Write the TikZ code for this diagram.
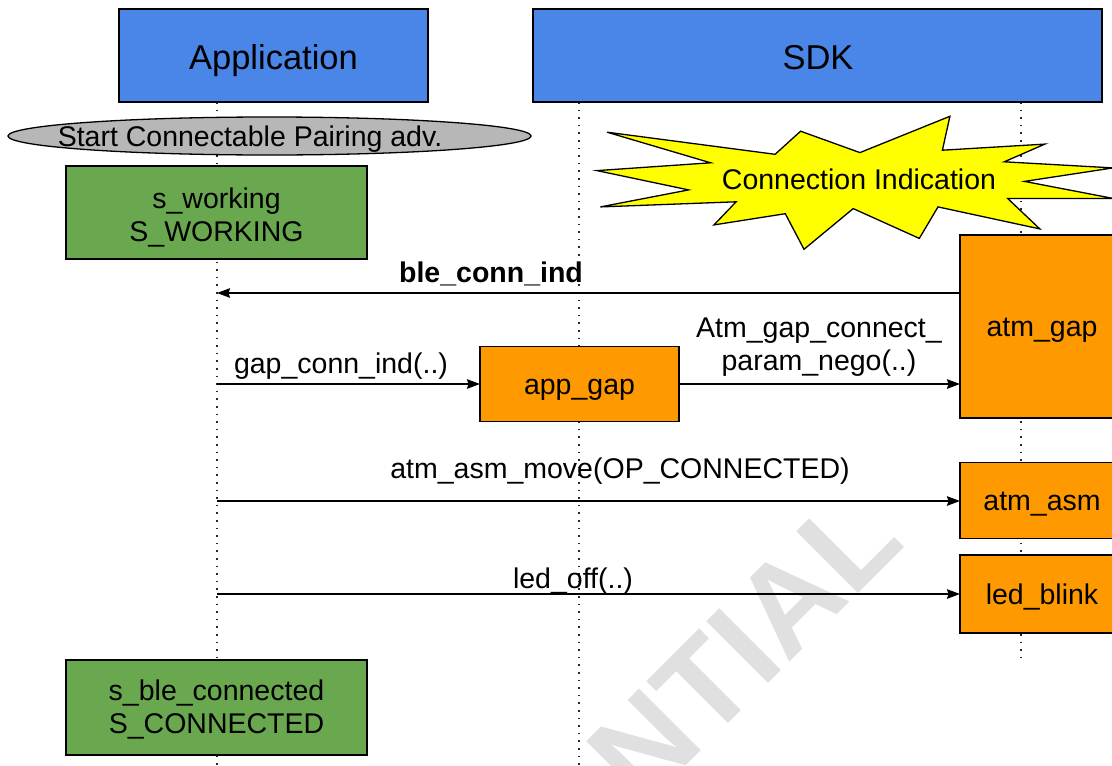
\documentclass[tikz,border=0pt]{standalone}
\usepackage{fontspec}
\setmainfont{Liberation Sans}
\usetikzlibrary{arrows.meta}
\definecolor{hdrblue}{HTML}{4A86E8}
\definecolor{stgreen}{HTML}{6AA84F}
\definecolor{fnorange}{HTML}{FF9900}
\definecolor{elgray}{HTML}{B7B7B7}
\definecolor{burstyellow}{HTML}{FFFF00}
\definecolor{wmgray}{HTML}{E0E0E0}
\begin{document}
\begin{tikzpicture}[x=1pt,y=-1pt,
  every node/.style={inner sep=0pt, outer sep=0pt},
  txt/.style={font=\fontsize{28.5}{33}\selectfont, align=center},
  header/.style={draw=black, line width=1.3pt, fill=hdrblue},
  hdrtxt/.style={font=\fontsize{34.5}{40}\selectfont, anchor=base},
  statebox/.style={draw=black, line width=1.3pt, fill=stgreen, txt},
  fnbox/.style={draw=black, line width=1.3pt, fill=fnorange, font=\fontsize{28.5}{33}\selectfont, text height=20pt, text depth=-4pt},
  lifeline/.style={line width=1.6pt, dash pattern=on 1.6pt off 6pt, black!85},
  msg/.style={line width=1.4pt, -{Stealth[length=13pt,width=9.5pt,inset=1.5pt]}},
  lbl/.style={txt, anchor=base},
  burst/.style={draw=black, line width=1.3pt, fill=burstyellow, line join=miter},
]
\path[use as bounding box, clip] (0,0) rectangle (1112,766);
\fill[white] (0,0) rectangle (1112,766);

% watermark
\node[rotate=45, anchor=base east, text=wmgray, font={\fontsize{127}{127}\selectfont\bfseries}] (wm) at (907,545) {NTIAL};

% lifelines
\coordinate (appL0) at (217,102); \coordinate (appL1) at (217,766);
\coordinate (midL0) at (579,102); \coordinate (midL1) at (579,766);
\coordinate (rgtL0) at (1021,102); \coordinate (rgtL1) at (1021,662);
\draw[lifeline] (appL0) -- (appL1);
\draw[lifeline] (midL0) -- (midL1);
\draw[lifeline] (rgtL0) -- (rgtL1);

% headers
\node[header, minimum width=309, minimum height=93] (app) at (273.5,55.5) {};
\node[hdrtxt] (apptxt) at (273.5,69.5) {Application};
\node[header, minimum width=569, minimum height=93] (sdk) at (817.5,55.5) {};
\node[hdrtxt] (sdktxt) at (818,69.5) {SDK};

% advertising ellipse
\coordinate (advc) at (269.5,136);
\draw[line width=1.3pt, fill=elgray] (advc) ellipse [x radius=261.5, y radius=19];
\node[txt, anchor=base] (adv) at (250,146) {Start Connectable Pairing adv.};

% state boxes
\node[statebox, minimum width=301, minimum height=93] (sw) at (216.5,212.5) {};
\node[txt] (swtxt) at (216.5,218) {s\_working\\S\_WORKING};
\node[statebox, minimum width=301, minimum height=95] (sc) at (216.5,707.5) {};
\node[txt] (sctxt) at (216.5,709) {s\_ble\_connected\\S\_CONNECTED};

% function boxes
\node[fnbox, minimum width=199, minimum height=75] (appgap) at (579.5,384) {app\_gap};
\node[fnbox, minimum width=164, minimum height=183] (atmgap) at (1042,326.5) {atm\_gap};
\node[fnbox, minimum width=164, minimum height=76] (atmasm) at (1042,500.5) {atm\_asm};
\node[fnbox, minimum width=164, minimum height=78] (ledblink) at (1042,594) {led\_blink};

% starburst
\draw[burst] (607.1,132.2) -- (775.1,154.3) -- (800.6,131.2) -- (859.9,152.6)
  -- (949.9,116.3) -- (942.4,150.2) -- (1044.9,144.1) -- (1004.2,161.8)
  -- (1113,167.9) -- (1024.5,181.4) -- (1113,198.4) -- (1007.6,198.4)
  -- (1039.8,228.9) -- (938,206.9) -- (919.3,238.4) -- (853.2,208.6)
  -- (804,249.3) -- (785.3,213.7) -- (714,224.9) -- (736.1,201.8)
  -- (600.4,206.9) -- (688.6,189.9) -- (597,170.6) -- (710.6,162.8) -- cycle;
\node[txt] (conn) at (859,179) {Connection Indication};

% messages
\coordinate (m1) at (217,293);
\coordinate (m2) at (217,384);
\coordinate (m3) at (217,501);
\coordinate (m4) at (217,594);
\draw[msg] (atmgap.west |- m1) -- (m1);
\draw[msg] (m2) -- (appgap.west);
\draw[msg] (appgap.east) -- (atmgap.west |- appgap.east);
\draw[msg] (m3) -- (atmasm.west |- m3);
\draw[msg] (m4) -- (ledblink.west);

% labels
\node[lbl, font={\fontsize{28.5}{33}\selectfont\bfseries}] (l1) at (491,282) {ble\_conn\_ind};
\node[lbl] (l2) at (341,373) {gap\_conn\_ind(..)};
\node[txt] (l3) at (819,347) {Atm\_gap\_connect\_\\param\_nego(..)};
\node[lbl] (l4) at (620,478) {atm\_asm\_move(OP\_CONNECTED)};
\node[lbl] (l5) at (573,588) {led\_off(..)};
\end{tikzpicture}
\end{document}
